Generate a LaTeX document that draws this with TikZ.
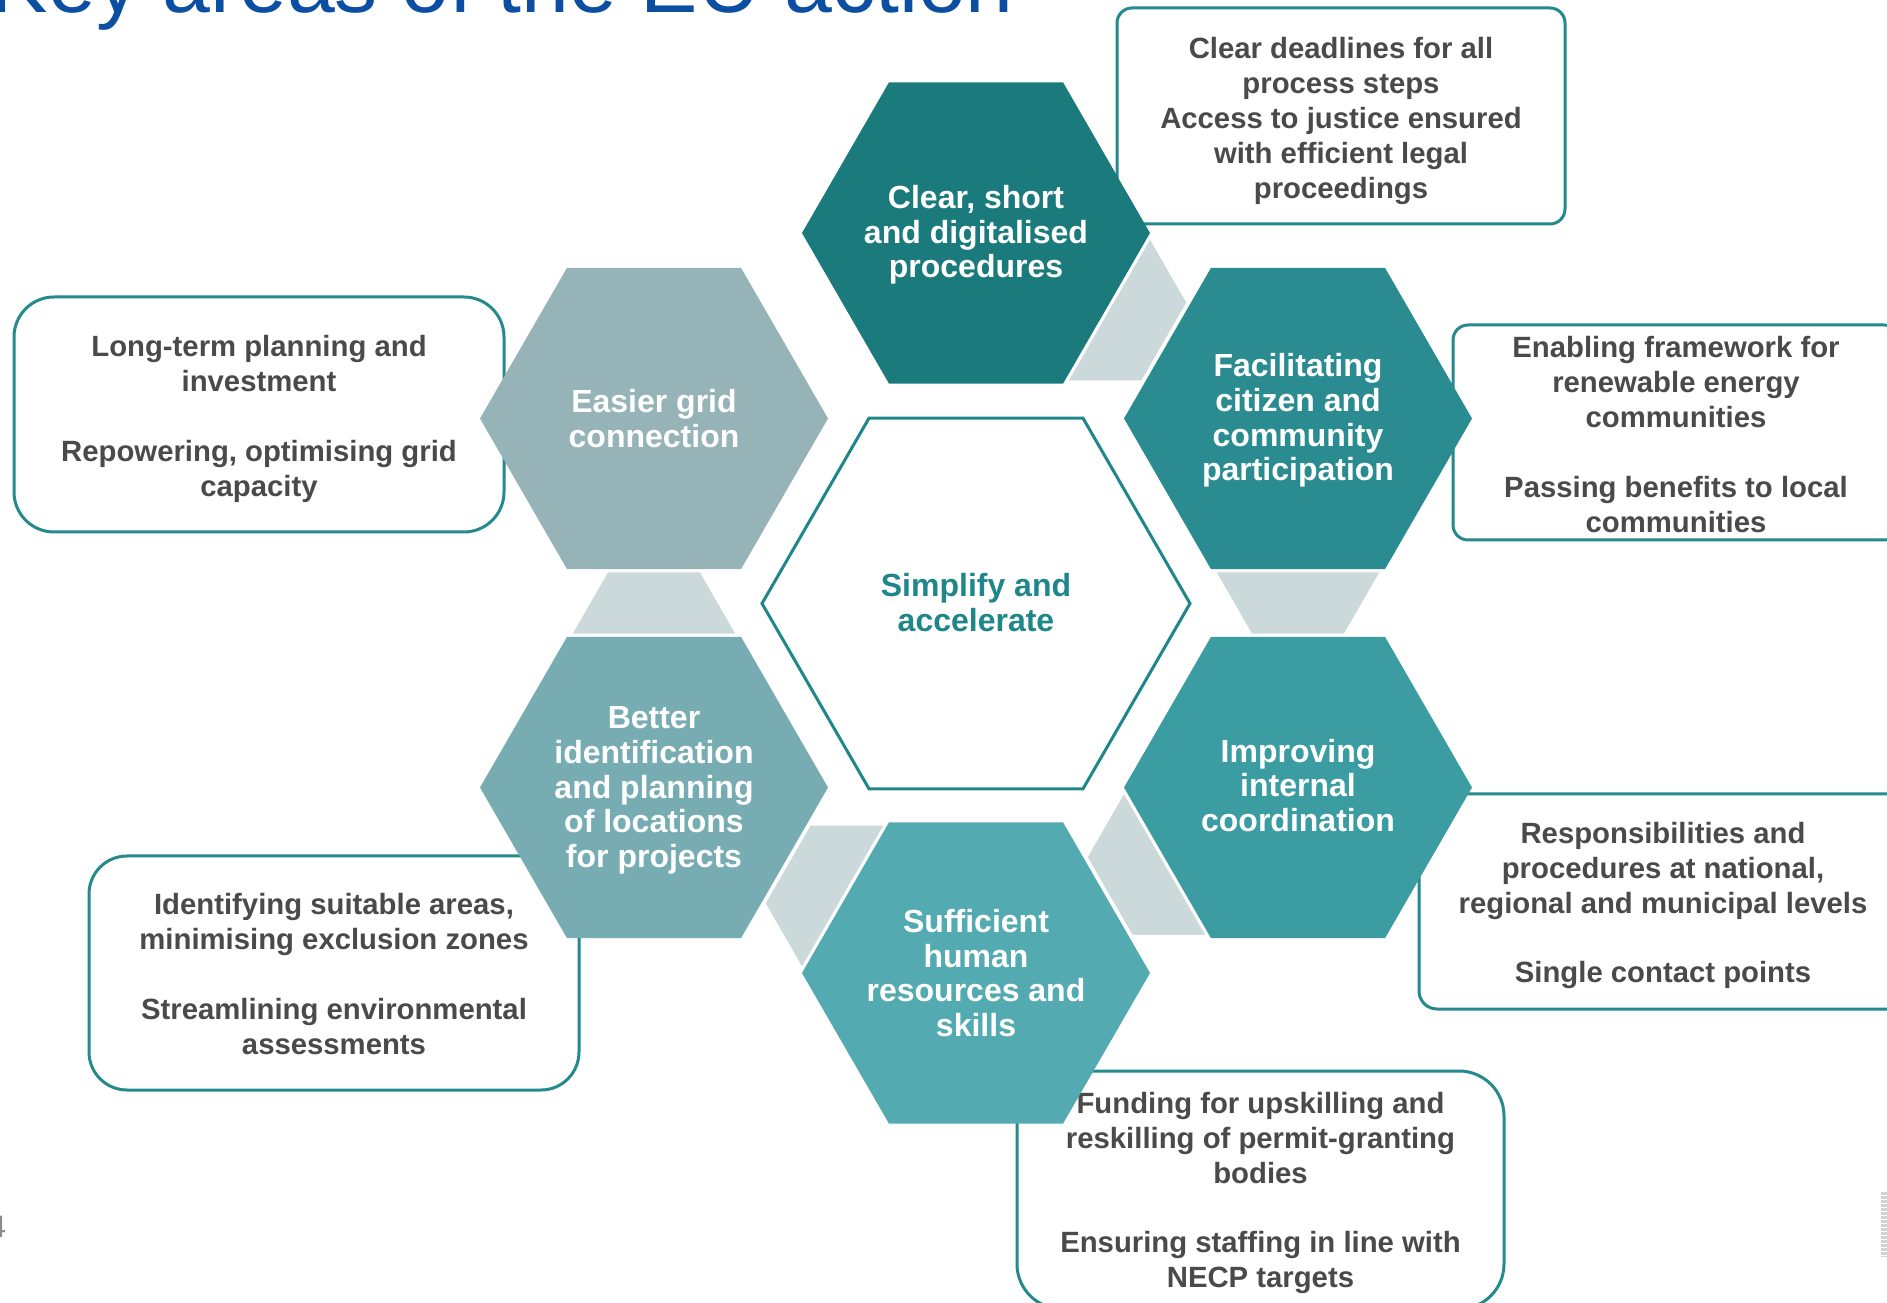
\documentclass[tikz,border=0pt]{standalone}
\usepackage{fontspec}
\setmainfont{Liberation Sans}
\definecolor{clearcol}{HTML}{1B7A7C}
\definecolor{faccol}{HTML}{2A8B90}
\definecolor{impcol}{HTML}{3B9CA2}
\definecolor{sufcol}{HTML}{54AAB1}
\definecolor{betcol}{HTML}{77ADB2}
\definecolor{eascol}{HTML}{96B3B7}
\definecolor{conncol}{HTML}{CBD9DA}
\definecolor{boxline}{HTML}{248A8D}
\definecolor{boxtext}{HTML}{4A4A4A}
\definecolor{centercol}{HTML}{1F8689}
\definecolor{titleblue}{HTML}{0B4EA2}
\definecolor{pagegray}{HTML}{8C8C8C}
\tikzset{
  infobox/.style={draw=boxline, line width=3pt, fill=white, inner sep=0pt},
  boxlabel/.style={align=center, text=boxtext, font=\bfseries\fontsize{29.3}{34.9}\selectfont, inner sep=0pt},
  hexlabel/.style={text=white, align=center, font=\bfseries\fontsize{32}{34.6}\selectfont, inner sep=0pt},
  connpiece/.style={fill=conncol, draw=white, line width=6.5pt, line join=miter},
}
\begin{document}
\begin{tikzpicture}[x=1pt,y=1pt]
\useasboundingbox (0,0) rectangle (1887,1302);
\fill[white] (0,0) rectangle (1887,1302);

% centres
\coordinate (cc) at (976,698.5);
\coordinate (clearc) at (976,1069);
\coordinate (facc) at (1298,883.5);
\coordinate (impc) at (1298,514.5);
\coordinate (sufc) at (976,329);
\coordinate (betc) at (654,514.5);
\coordinate (easc) at (654,883.5);

% title and page marks
\node[anchor=base west, inner sep=0pt, text=titleblue, font=\fontsize{86}{86}\selectfont] (title) at (-9.3,1289) {Key areas of the EU action};
\node[anchor=base west, inner sep=0pt, text=pagegray, font=\fontsize{31}{31}\selectfont] (pnum) at (-11.3,65) {4};
\fill[gray!35] (1881,45) rectangle (1887,110);
\foreach \k in {0,...,15} {\draw[white, line width=1pt] (1881,47+4*\k) -- (1887,47+4*\k);}

% connectors
\begin{scope}[shift={(clearc)}, rotate=-30]
  \path[connpiece] (150.69,87) -- (220.3,46.8) -- (220.3,-46.8) -- (150.69,-87) -- cycle;
\end{scope}
\begin{scope}[shift={(facc)}, rotate=-90]
  \path[connpiece] (150.69,87) -- (218.3,48) -- (218.3,-48) -- (150.69,-87) -- cycle;
\end{scope}
\begin{scope}[shift={(impc)}, rotate=210]
  \path[connpiece] (150.69,87) -- (220.3,46.8) -- (220.3,-46.8) -- (150.69,-87) -- cycle;
\end{scope}
\begin{scope}[shift={(sufc)}, rotate=150]
  \path[connpiece] (150.69,87) -- (220.3,46.8) -- (220.3,-46.8) -- (150.69,-87) -- cycle;
\end{scope}
\begin{scope}[shift={(betc)}, rotate=90]
  \path[connpiece] (150.69,87) -- (218.3,48) -- (218.3,-48) -- (150.69,-87) -- cycle;
\end{scope}

% info boxes
\node[infobox, minimum width=448pt, minimum height=216pt, rounded corners=15pt] (boxclear) at (1341,1186) {};
\node[infobox, minimum width=446pt, minimum height=215pt, rounded corners=15pt] (boxfac) at (1676,869.5) {};
\node[infobox, minimum width=490pt, minimum height=235pt, rounded corners=40pt] (boxeas) at (259,887.5) {};
\node[infobox, minimum width=488pt, minimum height=215pt, rounded corners=18pt] (boximp) at (1663,400.5) {};
\node[infobox, minimum width=490pt, minimum height=234pt, rounded corners=38pt] (boxbet) at (334,329) {};
\node[infobox, minimum width=487pt, minimum height=238pt, rounded corners=45pt] (boxsuf) at (1260.5,112) {};

\node[boxlabel] (tclear) at ([yshift=-5pt]boxclear.center)
  {Clear deadlines for all\\process steps\\Access to justice ensured\\with efficient legal\\proceedings};
\node[boxlabel] (tfac) at ([yshift=-2pt]boxfac.center)
  {Enabling framework for\\renewable energy\\communities\\[34.9pt]Passing benefits to local\\communities};
\node[boxlabel] (teas) at ([yshift=-4.5pt]boxeas.center)
  {Long-term planning and\\investment\\[34.9pt]Repowering, optimising grid\\capacity};
\node[boxlabel] (timp) at ([yshift=-4pt]boximp.center)
  {Responsibilities and\\procedures at national,\\regional and municipal levels\\[34.9pt]Single contact points};
\node[boxlabel] (tbet) at ([yshift=-1pt]boxbet.center)
  {Identifying suitable areas,\\minimising exclusion zones\\[34.9pt]Streamlining environmental\\assessments};
\node[boxlabel] (tsuf) at ([yshift=-3pt]boxsuf.center)
  {Funding for upskilling and\\reskilling of permit-granting\\bodies\\[34.9pt]Ensuring staffing in line with\\NECP targets};

% hexagons
\fill[clearcol] (clearc) +(0:174pt) -- +(60:174pt) -- +(120:174pt) -- +(180:174pt) -- +(240:174pt) -- +(300:174pt) -- cycle;
\fill[faccol] (facc) +(0:174pt) -- +(60:174pt) -- +(120:174pt) -- +(180:174pt) -- +(240:174pt) -- +(300:174pt) -- cycle;
\fill[impcol] (impc) +(0:174pt) -- +(60:174pt) -- +(120:174pt) -- +(180:174pt) -- +(240:174pt) -- +(300:174pt) -- cycle;
\fill[sufcol] (sufc) +(0:174pt) -- +(60:174pt) -- +(120:174pt) -- +(180:174pt) -- +(240:174pt) -- +(300:174pt) -- cycle;
\fill[betcol] (betc) +(0:174pt) -- +(60:174pt) -- +(120:174pt) -- +(180:174pt) -- +(240:174pt) -- +(300:174pt) -- cycle;
\fill[eascol] (easc) +(0:174pt) -- +(60:174pt) -- +(120:174pt) -- +(180:174pt) -- +(240:174pt) -- +(300:174pt) -- cycle;
\draw[centercol, line width=3pt, line join=miter] (cc) +(0:214pt) -- +(60:214pt) -- +(120:214pt) -- +(180:214pt) -- +(240:214pt) -- +(300:214pt) -- cycle;

% hexagon labels
\node[hexlabel] (clear) at ([yshift=-2pt]clearc) {Clear, short\\and digitalised\\procedures};
\node[hexlabel] (fac) at ([yshift=-2pt]facc) {Facilitating\\citizen and\\community\\participation};
\node[hexlabel] (imp) at ([yshift=2pt]impc) {Improving\\internal\\coordination};
\node[hexlabel] (suf) at (sufc) {Sufficient\\human\\resources and\\skills};
\node[hexlabel] (bet) at ([yshift=-3pt]betc) {Better\\identification\\and planning\\of locations\\for projects};
\node[hexlabel] (eas) at (easc) {Easier grid\\connection};
\node[hexlabel, text=centercol] (center) at ([yshift=1pt]cc) {Simplify and\\accelerate};
\end{tikzpicture}
\end{document}
